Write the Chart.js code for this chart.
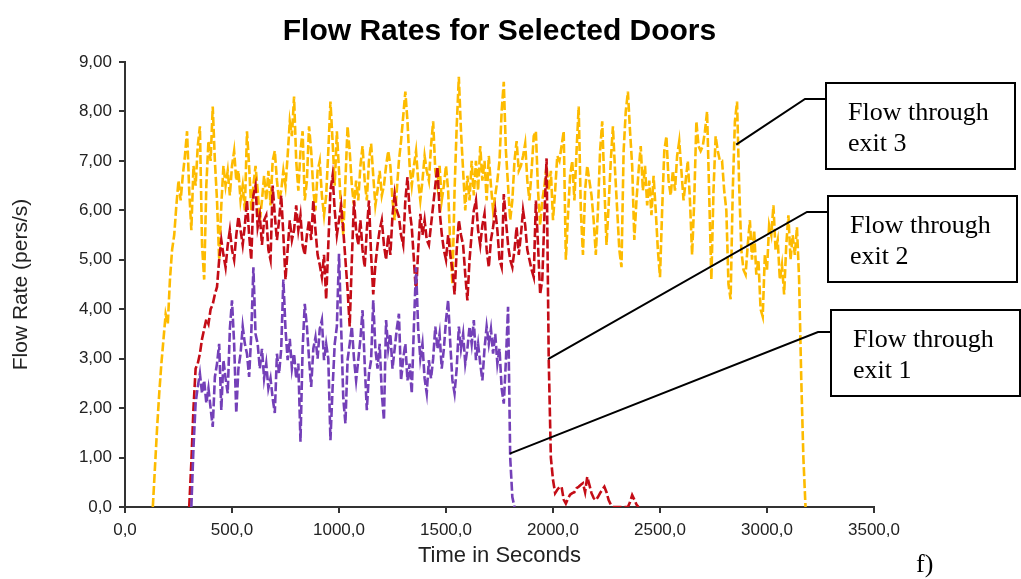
<!DOCTYPE html>
<html>
<head>
<meta charset="utf-8">
<title>Flow Rates for Selected Doors</title>
<script src="https://cdn.jsdelivr.net/npm/chart.js@4.4.1/dist/chart.umd.min.js"></script>
<style>
  html, body { margin: 0; padding: 0; background: #fff; }
</style>
</head>
<body>
<canvas id="flowChart" width="1021" height="579"></canvas>
<script>
// samples every 10 s
const sampleStep = 10;

const exit1Start = 310;
const exit1Flow = [
  0, 1.2, 2.1, 2.43, 2.7, 2.3, 2.56, 2.1, 2.4, 2.0,
  1.62, 2.63, 2.9, 3.3, 1.96, 2.97, 2.6, 2.3, 3.6, 4.18,
  3.3, 1.9, 2.8, 3.1, 3.65, 3.3, 3.1, 2.63, 3.5, 4.85,
  3.5, 3.3, 2.8, 3.2, 2.6, 2.9, 2.4, 2.6, 2.2, 1.9,
  3.1, 2.7, 3.2, 4.6, 3.6, 2.97, 3.4, 2.8, 3.1, 2.6,
  2.9, 1.32, 3.2, 4.11, 3.65, 3.0, 2.43, 3.2, 3.43, 3.0,
  3.6, 3.78, 2.97, 3.3, 3.0, 1.35, 2.4, 3.3, 3.65, 5.12,
  3.65, 2.2, 1.69, 2.97, 3.3, 3.65, 3.0, 2.56, 2.97, 3.4,
  3.98, 2.9, 1.96, 2.7, 2.97, 4.18, 3.2, 2.8, 3.3, 2.3,
  1.76, 3.78, 3.2, 3.5, 2.8, 3.2, 3.6, 3.91, 2.56, 3.0,
  3.3, 2.56, 2.9, 2.3, 3.65, 4.85, 3.6, 3.0, 3.3, 2.6,
  2.3, 2.97, 2.6, 3.0, 3.65, 3.2, 3.5, 2.8, 3.2, 3.78,
  4.18, 3.3, 2.56, 2.3, 2.8, 3.65, 3.2, 3.5, 2.9, 3.2,
  3.65, 3.3, 3.78, 2.97, 3.3, 2.9, 2.56, 3.2, 3.65, 3.3,
  3.6, 3.1, 3.5, 2.9, 3.2, 2.4, 2.09, 2.97, 4.05, 1.0,
  0.2, 0
];

const exit2Start = 300;
const exit2Flow = [
  0, 0.9, 2.0, 2.8, 2.9, 3.1, 3.4, 3.6, 3.8, 3.7,
  4.0, 4.1, 4.3, 4.45, 5.0, 5.4, 5.1, 4.85, 5.3, 5.6,
  5.2, 5.0, 5.5, 5.87, 5.6, 5.3, 5.7, 6.2, 5.5, 5.0,
  6.3, 6.5, 5.66, 5.9, 5.3, 5.8, 5.9, 5.2, 5.0, 6.5,
  5.9, 5.4, 5.8, 6.3, 5.5, 4.6, 5.2, 5.8, 5.4, 5.6,
  6.1, 5.6, 5.9, 5.3, 5.1, 5.5, 5.8, 5.4, 6.2, 5.6,
  5.1, 4.9, 4.65, 5.1, 4.2, 5.3, 6.4, 6.7, 6.0, 5.5,
  5.8, 6.1, 5.6, 5.0, 4.4, 3.65, 5.0, 6.2, 5.6, 5.3,
  5.8, 5.2, 4.85, 5.6, 6.2, 5.1, 4.3, 4.9, 5.3, 5.6,
  5.8, 5.3, 5.0, 5.5, 5.1, 5.9, 6.33, 6.0, 5.87, 5.5,
  5.3, 6.2, 6.67, 6.0, 5.66, 5.0, 4.3, 5.2, 5.93, 5.5,
  5.8, 5.4, 5.3, 5.7, 6.1, 6.5, 6.88, 6.0, 5.53, 5.2,
  5.0, 5.5, 5.1, 4.8, 4.3, 5.2, 5.8, 5.5, 5.3, 4.7,
  4.18, 5.0, 5.53, 6.0, 6.2, 5.6, 5.3, 5.7, 5.93, 5.2,
  4.85, 5.4, 5.66, 6.0, 5.6, 5.0, 4.85, 6.33, 5.8, 5.3,
  5.0, 4.85, 5.2, 5.66, 5.1, 5.5, 6.0, 5.7, 5.2, 5.0,
  4.8, 4.65, 6.2, 5.3, 4.3, 4.6, 5.9, 7.05, 2.99, 1.0,
  0.55, 0.28, 0.35, 0.4, 0.41, 0.15, 0.07, 0.17, 0.25, 0.28,
  0.3, 0.38, 0.41, 0.45, 0.48, 0.3, 0.61, 0.45, 0.28, 0.18,
  0.14, 0.2, 0.28, 0.35, 0.41, 0.3, 0.14, 0.05, 0, 0,
  0, 0, 0, 0, 0, 0, 0.1, 0.24, 0.15, 0.05,
  0
];

const exit3Start = 130;
const exit3Flow = [
  0, 0.8, 1.6, 2.3, 2.9, 3.4, 3.9, 3.7, 4.6, 5.2,
  5.5, 6.1, 6.6, 6.2, 6.7, 7.1, 7.6, 6.4, 5.6, 6.9,
  6.5, 7.3, 7.7, 5.3, 4.6, 6.5, 7.4, 7.0, 8.1, 7.0,
  6.2, 5.0, 6.1, 6.9, 6.5, 6.8, 6.3, 6.9, 7.2, 6.6,
  6.8, 6.2, 6.5, 6.0, 7.6, 6.9, 6.0, 6.5, 6.9, 6.4,
  5.8, 6.2, 6.7, 6.2, 6.8, 6.1, 7.0, 7.2, 6.6, 6.2,
  6.4, 6.8, 6.5, 7.1, 7.8, 7.5, 8.3, 7.0, 6.4, 7.2,
  7.6, 6.2, 6.6, 7.7, 7.2, 6.4, 6.0, 6.8, 7.0, 6.3,
  5.9, 6.3, 7.2, 8.2, 7.4, 6.5, 7.6, 6.8, 6.0, 5.5,
  6.6, 7.7, 7.2, 6.5, 6.1, 6.6, 6.2, 6.9, 7.3, 6.6,
  6.2, 7.0, 7.35, 6.7, 6.1, 6.4, 6.8, 6.3, 6.5, 6.9,
  7.2, 6.9, 6.2, 5.8, 6.4, 7.0, 7.4, 7.9, 8.4, 7.8,
  6.9, 6.5, 6.9, 7.2, 6.6, 6.2, 6.6, 7.1, 6.8, 6.6,
  7.3, 7.8, 6.8, 6.5, 6.9, 6.2, 6.5, 6.9, 6.4, 5.3,
  4.5, 6.4, 7.7, 8.7, 7.6, 6.8, 6.0, 6.7, 6.2, 7.0,
  6.3, 7.0, 6.4, 7.3, 6.6, 7.0, 6.2, 7.1, 6.5, 6.0,
  6.3, 6.6, 7.0, 8.0, 8.6, 7.2, 6.5, 5.8, 6.2, 7.0,
  7.4, 6.8, 6.9, 7.1, 7.35, 6.6, 6.2, 6.8, 7.5, 7.6,
  6.4, 5.7, 6.2, 6.5, 6.9, 6.4, 6.8, 5.8, 6.4, 7.1,
  7.0, 7.3, 7.6, 5.0, 5.9, 6.7, 7.0, 6.2, 7.2, 8.1,
  6.0, 5.1, 6.4, 6.9, 6.6, 6.3, 5.8, 5.1, 6.0, 7.2,
  7.8, 6.5, 5.3, 6.1, 7.0, 7.7, 6.8, 6.0, 5.2, 4.85,
  7.2, 8.0, 8.4, 7.6, 6.9, 5.4, 6.2, 6.8, 7.3, 6.4,
  6.9, 6.1, 6.6, 5.9, 6.7, 6.0, 5.2, 4.65, 6.0, 7.2,
  7.5, 6.6, 6.3, 6.8, 6.4, 7.1, 7.4, 6.8, 6.2, 6.6,
  7.0, 6.2, 5.1, 6.2, 7.8, 7.3, 7.2, 7.3, 7.6, 8.0,
  6.3, 4.6, 6.4, 7.5, 7.2, 7.0, 7.0, 6.4, 6.0, 4.5,
  4.2, 6.4, 7.8, 8.2, 6.5, 5.2, 4.8, 4.7, 5.3, 5.8,
  5.0, 5.6, 4.7, 5.0, 4.0, 3.85, 5.1, 4.8, 5.7, 5.5,
  6.1, 5.2, 5.4, 4.6, 4.9, 4.3, 5.3, 5.9, 5.0, 5.5,
  5.1, 5.66, 4.6, 2.6, 1.0, 0
];

const xTickLabels = ['0,0', '500,0', '1000,0', '1500,0', '2000,0', '2500,0', '3000,0', '3500,0'];
const yTickLabels = ['0,0', '1,00', '2,00', '3,00', '4,00', '5,00', '6,00', '7,00', '8,00', '9,00'];

const calloutText = [['Flow through', 'exit 1'], ['Flow through', 'exit 2'], ['Flow through', 'exit 3']];
// where each callout line touches its curve (time, flow)
const calloutAnchors = [[1798, 1.08], [1977, 2.99], [2856, 7.33]];

// layout of the callout boxes, in canvas pixels
const calloutBoxes = [
  { left: 831, top: 310, elbowX: 818, elbowY: 332 },
  { left: 828, top: 196, elbowX: 807, elbowY: 212 },
  { left: 826, top: 83, elbowX: 805, elbowY: 99 }
];

const sansFont = '"Liberation Sans", Arial, Helvetica, sans-serif';
const serifFont = '"Liberation Serif", "Times New Roman", serif';

function toPoints(start, values) {
  return values.map((v, i) => ({ x: start + i * sampleStep, y: v }));
}

const annotations = {
  id: 'annotations',
  afterDraw(chart) {
    const { ctx, chartArea, scales } = chart;
    ctx.save();

    ctx.fillStyle = '#000';
    ctx.font = 'bold 30px ' + sansFont;
    ctx.textAlign = 'center';
    ctx.textBaseline = 'alphabetic';
    ctx.fillText('Flow Rates for Selected Doors', (chartArea.left + chartArea.right) / 2, 40);

    ctx.lineWidth = 2;
    ctx.strokeStyle = '#000';
    calloutBoxes.forEach((box, i) => {
      const ax = scales.x.getPixelForValue(calloutAnchors[i][0]);
      const ay = scales.y.getPixelForValue(calloutAnchors[i][1]);
      ctx.beginPath();
      ctx.moveTo(ax, ay);
      ctx.lineTo(box.elbowX, box.elbowY);
      ctx.lineTo(box.left, box.elbowY);
      ctx.stroke();

      ctx.fillStyle = '#fff';
      ctx.fillRect(box.left, box.top, 189, 86);
      ctx.strokeRect(box.left, box.top, 189, 86);

      ctx.fillStyle = '#000';
      ctx.font = '26px ' + serifFont;
      ctx.textAlign = 'left';
      calloutText[i].forEach((line, j) => {
        ctx.fillText(line, box.left + 22, box.top + 37 + j * 31);
      });
    });

    ctx.font = '26px ' + serifFont;
    ctx.fillText('f)', 916, 572);
    ctx.restore();
  }
};

const axisColor = '#333';

new Chart(document.getElementById('flowChart'), {
  type: 'line',
  data: {
    datasets: [
      {
        label: 'Flow through exit 1',
        data: toPoints(exit1Start, exit1Flow),
        borderColor: '#7440b8'
      },
      {
        label: 'Flow through exit 2',
        data: toPoints(exit2Start, exit2Flow),
        borderColor: '#c40c16'
      },
      {
        label: 'Flow through exit 3',
        data: toPoints(exit3Start, exit3Flow),
        borderColor: '#fdbb00'
      }
    ]
  },
  options: {
    responsive: false,
    animation: false,
    events: [],
    layout: { padding: { left: 0, right: 147, top: 62, bottom: 12 } },
    elements: {
      line: { borderWidth: 2.6, borderDash: [9, 3], tension: 0, fill: false },
      point: { radius: 0 }
    },
    plugins: {
      legend: { display: false },
      tooltip: { enabled: false },
      title: { display: false }
    },
    scales: {
      x: {
        type: 'linear',
        min: 0,
        max: 3500,
        ticks: {
          stepSize: 500,
          maxRotation: 0,
          padding: 7,
          color: '#222',
          font: { family: sansFont, size: 17 },
          callback: (value, index) => xTickLabels[index]
        },
        grid: { drawOnChartArea: false, drawTicks: true, tickLength: 6, color: axisColor, lineWidth: 2 },
        border: { display: true, color: axisColor, width: 2 },
        title: {
          display: true,
          text: 'Time in Seconds',
          color: '#222',
          padding: 0,
          font: { family: sansFont, size: 22, lineHeight: 1 }
        },
        afterFit: scale => { scale.height = 60; }
      },
      y: {
        min: 0,
        max: 9,
        ticks: {
          stepSize: 1,
          padding: 7,
          color: '#222',
          font: { family: sansFont, size: 17 },
          callback: (value, index) => yTickLabels[index]
        },
        grid: { drawOnChartArea: false, drawTicks: true, tickLength: 6, color: axisColor, lineWidth: 2 },
        border: { display: true, color: axisColor, width: 2 },
        title: {
          display: true,
          text: 'Flow Rate (pers/s)',
          color: '#222',
          padding: { top: 9, bottom: 0 },
          font: { family: sansFont, size: 21 }
        },
        afterFit: scale => { scale.width = 125; }
      }
    }
  },
  plugins: [annotations]
});
</script>
</body>
</html>
